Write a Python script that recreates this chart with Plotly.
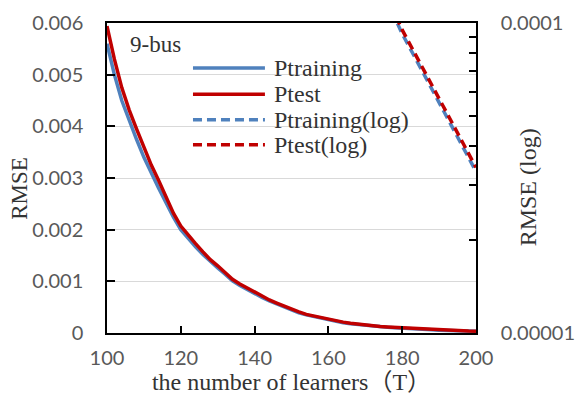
import plotly.graph_objects as go

T = list(range(100, 201, 2))
p_training = [0.0056, 0.0050, 0.00450, 0.00410, 0.00375, 0.00340, 0.00308, 0.00280, 0.00252, 0.00224,
              0.00200, 0.00183, 0.00167, 0.00152, 0.00138, 0.00126, 0.00114, 0.00101, 0.00092, 0.00084,
              0.00076, 0.00069, 0.00062, 0.00056, 0.00050, 0.00044, 0.00039, 0.00035, 0.00032, 0.00029,
              0.00025, 0.00022, 0.00020, 0.00018, 0.000163, 0.000145, 0.000135, 0.000121, 0.000111, 0.000104,
              0.0000922, 0.0000834, 0.0000752, 0.0000679, 0.0000611, 0.0000553, 0.0000500, 0.0000451, 0.0000407,
              0.0000369, 0.0000332]
p_test = [0.00594, 0.00530, 0.00475, 0.00432, 0.00395, 0.00360, 0.00325, 0.00295, 0.00262, 0.00232,
          0.00207, 0.00189, 0.00173, 0.00157, 0.00142, 0.00130, 0.00118, 0.00104, 0.00095, 0.00087,
          0.00079, 0.00072, 0.00064, 0.00058, 0.00052, 0.00046, 0.00041, 0.00036, 0.00033, 0.00030,
          0.00026, 0.00023, 0.00021, 0.00019, 0.00017, 0.00015, 0.00014, 0.000125, 0.000115, 0.000107,
          0.0000950, 0.0000860, 0.0000775, 0.0000700, 0.0000630, 0.0000570, 0.0000515, 0.0000465, 0.0000420,
          0.0000380, 0.0000342]

series_names = ["Ptraining", "Ptest", "Ptraining(log)", "Ptest(log)"]

x_ticks = [100, 120, 140, 160, 180, 200]
y_ticks = [0, 0.001, 0.002, 0.003, 0.004, 0.005, 0.006]
y_ticktext = ["0", "0.001", "0.002", "0.003", "0.004", "0.005", "0.006"]
y2_ticks = [1e-5, 1e-4]
y2_ticktext = ["0.00001", "0.0001"]
y2_minor = [2e-5, 3e-5, 4e-5, 5e-5, 6e-5, 7e-5, 8e-5, 9e-5]

BLUE = "#4F81BD"
RED = "#C00000"
GRAY = "#595959"
TXT = "#333333"
SERIF = "Liberation Serif, Times New Roman, Noto Sans CJK SC, serif"
SANS = "Lato, Open Sans, sans-serif"
DASH = "9px,5px"

styles = [dict(color=BLUE, width=3.5), dict(color=RED, width=3.5),
          dict(color=BLUE, width=3.5, dash=DASH), dict(color=RED, width=3.5, dash=DASH)]
axes = ["y", "y", "y2", "y2"]
data = [p_training, p_test, p_training, p_test]

fig = go.Figure()
for name, st, ax, ys in zip(series_names, styles, axes, data):
    fig.add_trace(go.Scatter(x=T, y=ys, name=name, mode="lines", yaxis=ax, line=st, showlegend=False))

# legend drawn as keys + labels inside the plot area (paper coordinates)
leg_x0, leg_x1, leg_tx = 0.233, 0.428, 0.447
leg_rows = [0.855, 0.770, 0.688, 0.607]
shapes = []
annotations = []
for name, st, yy in zip(series_names, styles, leg_rows):
    shapes.append(dict(type="line", xref="paper", yref="paper", x0=leg_x0, x1=leg_x1, y0=yy, y1=yy,
                       line=st))
    annotations.append(dict(text=name, xref="paper", yref="paper", x=leg_tx, y=yy, xanchor="left",
                            yanchor="middle", showarrow=False, font=dict(family=SERIF, size=24, color=TXT)))

annotations += [
    dict(text="9-bus", xref="paper", yref="paper", x=0.056, y=0.93, xanchor="left", yanchor="middle",
         showarrow=False, font=dict(family=SERIF, size=23, color=TXT)),
    dict(text="RMSE", xref="paper", yref="paper", x=-0.236, y=0.468, xanchor="center",
         yanchor="middle", textangle=-90, showarrow=False,
         font=dict(family=SERIF, size=23, color=TXT)),
    dict(text="RMSE (log)", xref="paper", yref="paper", x=1.141, y=0.47, xanchor="center",
         yanchor="middle", textangle=-90, showarrow=False,
         font=dict(family=SERIF, size=24, color=TXT)),
]

fig.update_layout(
    width=576, height=398,
    margin=dict(l=107, r=100, t=23, b=65),
    paper_bgcolor="white", plot_bgcolor="white",
    showlegend=False,
    shapes=shapes,
    annotations=annotations,
    xaxis=dict(range=[100, 200], tickvals=x_ticks, ticks="inside", ticklen=7, tickwidth=1.5,
               tickcolor="black", showline=True, linecolor="black", linewidth=1.5, mirror=True,
               showgrid=False, zeroline=False, automargin=False, ticklabelstandoff=6,
               tickfont=dict(family=SANS, size=20, color=GRAY),
               title=dict(text="the number of learners（T）", font=dict(family=SERIF, size=24, color=TXT),
                          standoff=4)),
    yaxis=dict(range=[0, 0.006], tickvals=y_ticks, ticktext=y_ticktext, ticks="inside", ticklen=8,
               tickwidth=1.5, tickcolor="black", showline=True, linecolor="black", linewidth=1.5,
               showgrid=True, gridcolor="#D9D9D9", gridwidth=1.2, zeroline=False, automargin=False,
               ticklabelstandoff=18,
               tickfont=dict(family=SANS, size=20, color=GRAY)),
    yaxis2=dict(type="log", range=[-5, -4], overlaying="y", side="right",
                tickvals=y2_ticks, ticktext=y2_ticktext, ticks="inside", ticklen=7, tickwidth=1.5,
                tickcolor="black", showline=True, linecolor="black", linewidth=1.5,
                showgrid=False, zeroline=False, ticklabelstandoff=19, automargin=False,
                minor=dict(tickvals=y2_minor, ticks="inside", ticklen=7, tickcolor="black", showgrid=False),
                tickfont=dict(family=SANS, size=20, color=GRAY)),
)

fig.write_html("out.html")
